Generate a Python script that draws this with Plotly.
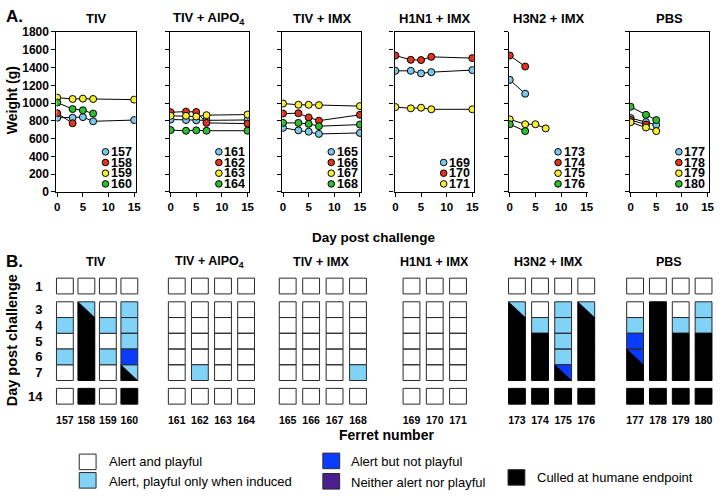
import plotly.graph_objects as go

W, H = 720, 499
FONT = "Liberation Sans, Arial, Helvetica, sans-serif"

# ------------------------------------------------------------------ DATA
group_titles = ["TIV", "TIV + AlPO<sub>4</sub>", "TIV + IMX", "H1N1 + IMX", "H3N2 + IMX", "PBS"]

# Panel A: body weight (g) by day post challenge
tiv_ferrets = [157, 158, 159, 160]
tiv_days = [[0, 3, 5, 7, 15], [0, 3], [0, 3, 5, 7, 15], [0, 3, 5, 7]]
tiv_weights = [[835, 835, 842, 795, 809], [886, 773], [1061, 1046, 1050, 1046, 1039], [1006, 933, 919, 882]]

alpo_ferrets = [161, 162, 163, 164]
alpo_days = [[0, 3, 5, 7, 15], [0, 3, 5, 7, 15], [0, 3, 5, 7, 15], [0, 3, 5, 7, 15]]
alpo_weights = [[815, 810, 806, 806, 810], [897, 904, 900, 777, 769],
                [857, 857, 849, 864, 871], [696, 689, 693, 689, 689]]

imx_ferrets = [165, 166, 167, 168]
imx_days = [[0, 3, 5, 7, 15], [0, 3, 5, 7, 15], [0, 3, 5, 7, 15], [0, 3, 5, 7, 15]]
imx_weights = [[722, 693, 678, 653, 664], [882, 886, 839, 802, 868],
               [995, 981, 981, 977, 966], [777, 777, 766, 740, 758]]

h1_ferrets = [169, 170, 171]
h1_days = [[0, 3, 5, 7, 15], [0, 3, 5, 7, 15], [0, 3, 5, 7, 15]]
h1_weights = [[1363, 1363, 1334, 1348, 1371], [1535, 1487, 1484, 1520, 1506], [955, 941, 948, 930, 930]]

h3_ferrets = [173, 174, 175, 176]
h3_days = [[0, 3], [0, 3], [0, 3, 5, 7], [0, 3]]
h3_weights = [[1261, 1105], [1535, 1411], [817, 762, 762, 715], [762, 685]]

pbs_ferrets = [177, 178, 179, 180]
pbs_days = [[0, 3, 5], [0, 3], [0, 3, 5], [0, 3, 5]]
pbs_weights = [[831, 787, 755], [809, 758], [784, 725, 685], [959, 868, 809]]

weight_ticks = [0, 200, 400, 600, 800, 1000, 1200, 1400, 1600, 1800]
day_ticks = [0, 5, 10, 15]

# Panel B: behaviour score per observation day
# W alert & playful, L playful only when induced, B alert not playful,
# P neither, K culled; "X/K" = scored X then culled that day
obs_days = [1, 3, 4, 5, 6, 7, 14]
tiv_status = [["W", "W", "L", "W", "L", "W", "W"],
              ["W", "L/K", "K", "K", "K", "K", "K"],
              ["W", "W", "L", "W", "L", "W", "W"],
              ["W", "L", "L", "L", "B", "L/K", "K"]]
alpo_status = [["W", "W", "W", "W", "W", "W", "W"],
               ["W", "W", "W", "W", "W", "L", "W"],
               ["W", "W", "W", "W", "W", "W", "W"],
               ["W", "W", "W", "W", "W", "W", "W"]]
imx_status = [["W", "W", "W", "W", "W", "W", "W"],
              ["W", "W", "W", "W", "W", "W", "W"],
              ["W", "W", "W", "W", "W", "W", "W"],
              ["W", "W", "W", "W", "W", "L", "W"]]
h1_status = [["W", "W", "W", "W", "W", "W", "W"],
             ["W", "W", "W", "W", "W", "W", "W"],
             ["W", "W", "W", "W", "W", "W", "W"]]
h3_status = [["W", "L/K", "K", "K", "K", "K", "K"],
             ["W", "W", "L", "K", "K", "K", "K"],
             ["W", "L", "L", "L", "L", "B/K", "K"],
             ["W", "L/K", "K", "K", "K", "K", "K"]]
pbs_status = [["W", "W", "L", "B", "B/K", "K", "K"],
              ["W", "K", "K", "K", "K", "K", "K"],
              ["W", "W", "L", "K", "K", "K", "K"],
              ["W", "L", "L", "K", "K", "K", "K"]]

status_codes = ["W", "L", "B", "P", "K"]
status_labels = ["Alert and playful", "Alert, playful only when induced", "Alert but not playful",
                 "Neither alert nor playful", "Culled at humane endpoint"]

# ------------------------------------------------------------------ STYLE / LAYOUT
series_colors = ["#7CC8EA", "#E0341E", "#F5EE2C", "#2DBE2D"]
status_colors = {"W": "#FFFFFF", "L": "#80D3F6", "B": "#0A3CFF", "P": "#4A1F8E", "K": "#000000"}

groups_A = [(tiv_ferrets, tiv_days, tiv_weights), (alpo_ferrets, alpo_days, alpo_weights),
            (imx_ferrets, imx_days, imx_weights), (h1_ferrets, h1_days, h1_weights),
            (h3_ferrets, h3_days, h3_weights), (pbs_ferrets, pbs_days, pbs_weights)]
groups_B = [(tiv_ferrets, tiv_status), (alpo_ferrets, alpo_status), (imx_ferrets, imx_status),
            (h1_ferrets, h1_status), (h3_ferrets, h3_status), (pbs_ferrets, pbs_status)]

A_left = [55, 169.5, 283, 396.5, 512, 634]
A_width = 80
A_top, A_bottom = 25.7, 190.3
B_center0 = [63.5, 176.5, 288.5, 413.5, 520, 639.3]
B_step = [21.7, 23.33, 23.67, 23.5, 23.33, 23.05]
B_cell_px = 17
B_row_top = [0, 1.5, 2.5, 3.5, 4.5, 5.5, 7.0]   # slot position of each observation row
B_unit_px = 16.2
B_top_px = 279


def px(x):
    return x / W


def py(y):
    return (H - y) / H


def bold(size):
    return dict(family=FONT, size=size, color="#000000", weight="bold")


fig = go.Figure()
layout = dict(width=W, height=H, margin=dict(l=0, r=0, t=0, b=0),
              paper_bgcolor="white", plot_bgcolor="white", showlegend=False)
annotations = []
shapes = []

# ---------------- Panel A
for g, (ferrets, days, weights) in enumerate(groups_A):
    sfx = "" if g == 0 else str(g + 1)
    xa, ya = "x" + sfx, "y" + sfx
    left = A_left[g]
    box = g != 4
    layout["xaxis" + sfx] = dict(domain=[px(left), px(left + A_width)], range=[-0.15, 15.3],
                                 anchor=ya, tickvals=day_ticks, ticks="outside", ticklen=4,
                                 tickwidth=1.2, tickcolor="black", showline=True, linecolor="black",
                                 linewidth=1.3, mirror=box, showgrid=False, zeroline=False,
                                 tickfont=bold(11.5), fixedrange=True)
    layout["yaxis" + sfx] = dict(domain=[py(A_bottom), py(A_top)], range=[0, 1800], anchor=xa,
                                 tickvals=weight_ticks, ticks="outside", ticklen=4, tickwidth=1.2,
                                 tickcolor="black", showline=True, linecolor="black", linewidth=1.3,
                                 mirror=box, showgrid=False, zeroline=False,
                                 showticklabels=(g == 0), tickfont=bold(12), fixedrange=True)
    for k in range(len(ferrets)):
        fig.add_trace(go.Scatter(x=days[k], y=weights[k], mode="lines", xaxis=xa, yaxis=ya,
                                 line=dict(color="black", width=1), hoverinfo="skip"))
    for k in range(len(ferrets)):
        fig.add_trace(go.Scatter(x=days[k], y=weights[k], mode="markers", xaxis=xa, yaxis=ya,
                                 name=str(ferrets[k]),
                                 marker=dict(size=7, color=series_colors[k],
                                             line=dict(color="black", width=1))))
    # per-panel key
    n = len(ferrets)
    for k in range(n):
        yy = 182 - (n - 1 - k) * 11
        shapes.append(dict(type="circle", xref="paper", yref="paper", xsizemode="pixel",
                           ysizemode="pixel", xanchor=px(left + 49.5), yanchor=py(yy),
                           x0=-3.3, x1=3.3, y0=-3.3, y1=3.3, fillcolor=series_colors[k],
                           line=dict(color="black", width=1)))
        annotations.append(dict(text=str(ferrets[k]), x=px(left + 53), y=py(yy), xref="paper",
                                yref="paper", xanchor="left", yanchor="middle", showarrow=False,
                                height=10, font=bold(12.5)))
    annotations.append(dict(text=group_titles[g], x=px(left + A_width / 2), y=py(12),
                            xref="paper", yref="paper", xanchor="center", yanchor="middle",
                            showarrow=False, font=bold(13)))

# ---------------- Panel B
for g, (ferrets, status) in enumerate(groups_B):
    ax = 7 + g
    xa, ya = "x%d" % ax, "y%d" % ax
    n = len(ferrets)
    step = B_step[g]
    c0 = B_center0[g]
    hw = (B_cell_px / 2) / step
    layout["xaxis%d" % ax] = dict(domain=[px(c0 - step / 2), min(1.0, px(c0 + (n - 0.5) * step))],
                                  range=[-0.5, n - 0.5], anchor=ya, tickvals=list(range(n)),
                                  ticktext=[str(f) for f in ferrets], ticks="outside", ticklen=5,
                                  tickcolor="rgba(0,0,0,0)", showline=False, showgrid=False,
                                  zeroline=False, tickfont=bold(10.5), fixedrange=True)
    layout["yaxis%d" % ax] = dict(domain=[py(B_top_px + 8.1 * B_unit_px), py(B_top_px - 0.1 * B_unit_px)],
                                  range=[8.1, -0.1], anchor=xa,
                                  tickvals=[t + 0.5 for t in B_row_top],
                                  ticktext=[str(d) for d in obs_days], ticks="outside", ticklen=8,
                                  tickcolor="rgba(0,0,0,0)", showline=False, showgrid=False,
                                  zeroline=False, showticklabels=(g == 0), tickfont=bold(13),
                                  fixedrange=True)
    polys = {c: ([], []) for c in status_codes}
    tris = ([], [])
    for i in range(n):
        for r in range(len(obs_days)):
            code = status[i][r]
            top = B_row_top[r]
            base = code.split("/")[0]
            xs, ys = polys[base]
            xs += [i - hw, i + hw, i + hw, i - hw, i - hw, None]
            ys += [top, top, top + 1, top + 1, top, None]
            if code.endswith("/K"):
                tris[0].extend([i - hw, i - hw, i + hw, i - hw, None])
                tris[1].extend([top, top + 1, top + 1, top, None])
    for c in ["W", "L", "B", "P", "K"]:
        xs, ys = polys[c]
        if not xs:
            continue
        edge = "#000000" if c == "K" else "#2a2a2a"
        fig.add_trace(go.Scatter(x=xs, y=ys, mode="lines", fill="toself", fillcolor=status_colors[c],
                                 line=dict(color=edge, width=1), xaxis=xa, yaxis=ya,
                                 hoverinfo="skip", name=c))
    if tris[0]:
        fig.add_trace(go.Scatter(x=tris[0], y=tris[1], mode="lines", fill="toself",
                                 fillcolor="#000000", line=dict(color="#000000", width=0.5),
                                 xaxis=xa, yaxis=ya, hoverinfo="skip", name="K"))
    annotations.append(dict(text=group_titles[g], x=px(A_left[g] + A_width / 2), y=py(262),
                            xref="paper", yref="paper", xanchor="center", yanchor="middle",
                            showarrow=False, font=bold(12.5)))

# ---------------- Labels
def note(text, x, y, size, angle=0, xanchor="center", weight="bold"):
    f = dict(family=FONT, size=size, color="#000000", weight=weight)
    annotations.append(dict(text=text, x=px(x), y=py(y), xref="paper", yref="paper",
                            xanchor=xanchor, yanchor="middle", showarrow=False,
                            textangle=angle, font=f))


note("A.", 2, 10, 17, xanchor="left")
note("B.", 2, 262, 17, xanchor="left")
note("Weight (g)", 10, 96, 14, angle=-90)
note("Day post challenge", 376, 237, 13.5)
note("Day post challenge", 10, 343, 14.5, angle=-90)
note("Ferret number", 388, 440, 14)

# ---------------- Behaviour key
key_pos = [(78, 460, 106, 468), (78, 479, 106, 488), (324, 459, 350, 468),
           (324, 480, 350, 489), (511, 476, 538, 484)]
for c, lab, (sx, sy, tx, ty) in zip(status_codes, status_labels, key_pos):
    shapes.append(dict(type="rect", xref="paper", yref="paper", x0=px(sx), x1=px(sx + 17),
                       y0=py(sy + 16), y1=py(sy), fillcolor=status_colors[c],
                       line=dict(color="#2a2a2a", width=1)))
    note(lab, tx, ty, 13, xanchor="left", weight="normal")

layout["annotations"] = annotations
layout["shapes"] = shapes
fig.update_layout(**layout)
fig.write_html("out.html", config={"displayModeBar": False},
               post_script="document.body.style.margin='0';document.body.style.overflow='hidden';")
